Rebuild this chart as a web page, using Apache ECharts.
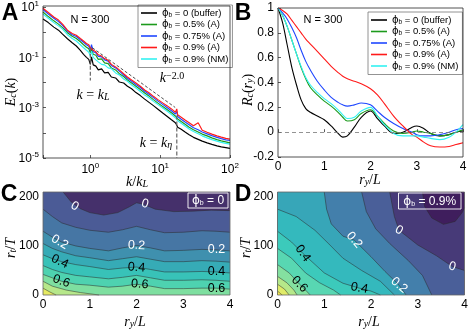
<!DOCTYPE html>
<html>
<head>
<meta charset="utf-8">
<style>html,body{margin:0;padding:0;background:#fff}#chart{width:473px;height:329px}</style>
<script src="https://cdn.jsdelivr.net/npm/echarts@6.0.0/dist/echarts.min.js"></script>
</head>
<body>
<div id="chart"></div>
<script>
// ---- panel A: spectra, log10 E_c(k)
var kA = [0.21, 0.25, 0.3, 0.35, 0.4, 0.47, 0.55, 0.63, 0.72, 0.8,
  0.88, 0.95, 1.0, 1.04, 1.1, 1.2, 1.3, 1.45, 1.6, 1.8,
  2.0, 2.3, 2.6, 3.0, 3.4, 3.9, 4.5, 5.2, 6, 7,
  8, 9.3, 11, 12.5, 14.5, 16.5, 17.3, 17.8, 20, 23,
  26, 30, 35, 40, 47, 55, 65, 75, 87, 100];
var logE_buffer = [0.52, 0.38, 0.2, 0.08, -0.08, -0.26, -0.42, -0.55, -0.72, -0.88,
  -1.0, -1.08, -1.28, -0.98, -1.3, -1.35, -1.5, -1.46, -1.62, -1.6,
  -1.78, -1.82, -1.98, -2.02, -2.15, -2.25, -2.4, -2.52, -2.66, -2.8,
  -2.92, -3.06, -3.22, -3.34, -3.48, -3.6, -3.7, -3.78, -3.86, -3.98,
  -4.08, -4.18, -4.26, -4.33, -4.4, -4.46, -4.52, -4.56, -4.59, -4.62];
var logE_05A = [0.8, 0.62, 0.45, 0.32, 0.18, -0.02, -0.16, -0.25, -0.38, -0.5,
  -0.6, -0.66, -0.82, -0.65, -0.88, -0.92, -1.08, -1.06, -1.22, -1.25,
  -1.42, -1.5, -1.65, -1.76, -1.9, -2.02, -2.15, -2.28, -2.42, -2.55,
  -2.68, -2.82, -2.96, -3.07, -3.2, -3.33, -3.32, -3.45, -3.55, -3.67,
  -3.78, -3.88, -3.97, -4.05, -4.12, -4.2, -4.27, -4.32, -4.36, -4.4];
var logE_075A = [0.9, 0.72, 0.55, 0.42, 0.27, 0.04, -0.1, -0.17, -0.3, -0.4,
  -0.5, -0.56, -0.7, -0.5, -0.78, -0.82, -0.96, -0.98, -1.1, -1.15,
  -1.32, -1.42, -1.55, -1.7, -1.83, -1.95, -2.08, -2.2, -2.35, -2.48,
  -2.6, -2.74, -2.88, -2.99, -3.12, -3.25, -3.15, -3.35, -3.46, -3.58,
  -3.68, -3.8, -3.88, -3.97, -4.04, -4.11, -4.18, -4.23, -4.28, -4.3];
var logE_09A = [0.95, 0.78, 0.6, 0.48, 0.32, 0.08, -0.05, -0.12, -0.25, -0.35,
  -0.45, -0.5, -0.62, -0.55, -0.72, -0.78, -0.9, -0.95, -1.05, -1.12,
  -1.28, -1.38, -1.5, -1.65, -1.78, -1.9, -2.02, -2.15, -2.3, -2.42,
  -2.55, -2.68, -2.82, -2.92, -3.05, -3.18, -3.05, -3.28, -3.38, -3.5,
  -3.6, -3.72, -3.6, -3.9, -3.98, -4.05, -4.12, -4.17, -4.22, -4.25];
var logE_09NM = [0.72, 0.55, 0.38, 0.25, 0.12, -0.1, -0.25, -0.35, -0.5, -0.62,
  -0.72, -0.8, -0.95, -0.75, -1.0, -1.1, -1.18, -1.28, -1.3, -1.42,
  -1.45, -1.62, -1.7, -1.86, -1.95, -2.1, -2.22, -2.36, -2.5, -2.62,
  -2.75, -2.88, -3.02, -3.13, -3.27, -3.4, -3.42, -3.52, -3.62, -3.74,
  -3.85, -3.95, -4.04, -4.12, -4.2, -4.27, -4.33, -4.38, -4.42, -4.45];
var slopeLine = [[1.07, 0.24], [16.4, 1.02e-3]];
var kLLine = [[1.0, 0.24], [1.0, 0.012]];
var kEtaLine = [[17.3, 4.9e-4], [17.3, 1e-5]];

// ---- panel B: R_c(r_y)
var rB = [0, 0.1, 0.2, 0.3, 0.4, 0.5, 0.6, 0.7, 0.85, 1.0, 1.15, 1.3, 1.4, 1.5, 1.65,
  1.8, 2.0, 2.15, 2.3, 2.5, 2.7, 2.9, 3.0, 3.15, 3.3, 3.5, 3.7, 3.85, 4.0];
var Rc_buffer = [1, 0.88, 0.7, 0.52, 0.38, 0.26, 0.19, 0.16, 0.13, 0.1, 0.05, -0.01, -0.04, -0.03, 0.04,
  0.12, 0.17, 0.11, 0.05, -0.01, 0.0, 0.04, 0.05, 0.03, -0.01, -0.03, -0.02, 0.0, 0.01];
var Rc_05A = [1, 0.94, 0.85, 0.74, 0.63, 0.52, 0.43, 0.36, 0.3, 0.25, 0.21, 0.16, 0.12, 0.09, 0.1,
  0.15, 0.18, 0.13, 0.07, 0.01, -0.01, 0.0, 0.01, 0.0, -0.01, -0.03, -0.02, 0.0, 0.02];
var Rc_075A = [1, 0.96, 0.91, 0.84, 0.76, 0.66, 0.57, 0.5, 0.41, 0.34, 0.28, 0.24, 0.22, 0.21, 0.22,
  0.235, 0.22, 0.17, 0.12, 0.07, 0.03, 0.0, -0.02, -0.03, -0.03, -0.02, 0.0, 0.02, 0.03];
var Rc_09A = [1, 0.98, 0.95, 0.9, 0.85, 0.8, 0.75, 0.71, 0.65, 0.59, 0.53, 0.48, 0.45, 0.43, 0.41,
  0.39, 0.35, 0.3, 0.23, 0.13, 0.05, -0.02, -0.04, -0.08, -0.11, -0.12, -0.115, -0.1, -0.085];
var Rc_09NM = [1, 0.94, 0.85, 0.74, 0.63, 0.53, 0.44, 0.38, 0.32, 0.27, 0.23, 0.18, 0.14, 0.11, 0.12,
  0.17, 0.2, 0.13, 0.06, -0.01, -0.03, -0.03, -0.03, -0.04, -0.05, -0.06, -0.04, 0.0, 0.06];

var legendLabels = ['0 (buffer)', '0.5% (A)', '0.75% (A)', '0.9% (A)', '0.9% (NM)'];

// ---- panel C: contour lines [r_y/L, r_t/T], phi_b = 0
var cLine_0 = [[0.43, 210], [0.6, 190], [0.8, 176], [1.0, 168], [1.3, 163], [1.6, 168], [1.85, 180], [2.0, 188], [2.15, 185], [2.4, 175], [2.8, 170], [3.2, 171], [3.6, 173], [4.0, 172]];
var cLine_01 = [[0, 175], [0.2, 160], [0.4, 147], [0.7, 138], [1.0, 132], [1.4, 128], [1.7, 133], [2.0, 140], [2.3, 133], [2.6, 127], [3.0, 128], [3.4, 131], [3.7, 130], [4.0, 128]];
var cLine_02 = [[0, 130], [0.2, 118], [0.4, 108], [0.7, 100], [1.0, 95], [1.4, 90], [1.7, 96], [2.0, 101], [2.3, 96], [2.6, 90], [3.0, 91], [3.4, 93], [3.7, 92], [4.0, 90]];
var cLine_03 = [[0, 105], [0.2, 95], [0.4, 88], [0.7, 80], [1.0, 76], [1.4, 70], [1.7, 74], [2.0, 78], [2.3, 73], [2.6, 68], [3.0, 68], [3.4, 70], [3.7, 69], [4.0, 67]];
var cLine_04 = [[0, 82], [0.2, 74], [0.4, 68], [0.7, 62], [1.0, 58], [1.4, 52], [1.7, 55], [2.0, 57], [2.3, 52], [2.6, 47], [3.0, 47], [3.4, 48], [3.7, 47], [4.0, 45]];
var cLine_05 = [[0, 60], [0.2, 52], [0.4, 46], [0.7, 40], [1.0, 37], [1.4, 33], [1.7, 36], [2.0, 40], [2.3, 35], [2.6, 30], [3.0, 30], [3.4, 31], [3.7, 30], [4.0, 28]];
var cLine_06 = [[0, 42], [0.2, 35], [0.4, 28], [0.7, 22], [1.0, 20], [1.4, 16], [1.7, 18], [2.0, 22], [2.3, 18], [2.6, 13], [3.0, 13], [3.4, 14], [3.7, 14], [4.0, 12]];
var cLine_07 = [[0, 28], [0.2, 18], [0.5, 10], [0.8, 5], [1.2, 0]];
var cLine_08 = [[0, 14], [0.15, 6], [0.28, 0]];
var cLabels = [[0.68, 181, '0', -30, '#fff'], [2.18, 186, '0', -15, '#fff'],
  [0.36, 108, '0.2', -30, '#fff'], [2.0, 101, '0.2', -3, '#fff'], [3.71, 92, '0.2', 0, '#fff'],
  [0.36, 68, '0.4', -25, '#000'], [2.0, 56, '0.4', -5, '#000'], [3.71, 47, '0.4', 0, '#000'],
  [0.39, 28, '0.6', -20, '#000'], [2.07, 22, '0.6', -5, '#000'], [3.71, 14, '0.6', 0, '#000']];

// ---- panel D: contour lines, phi_b = 0.9%
var dLine_m01 = [[3.1, 210], [3.15, 180], [3.3, 157], [3.55, 144], [3.8, 150], [3.95, 168], [4.0, 178]];
var dLine_0 = [[2.4, 210], [2.5, 160], [2.6, 132], [3.0, 102], [3.4, 80], [3.74, 58], [4.0, 50]];
var dLine_01 = [[1.8, 210], [1.9, 170], [2.1, 135], [2.4, 105], [2.8, 70], [3.1, 40], [3.3, 0]];
var dLine_02 = [[1.0, 210], [1.05, 175], [1.15, 145], [1.4, 120], [1.64, 112], [2.0, 78], [2.3, 48], [2.6, 20], [2.75, 0]];
var dLine_03 = [[0, 175], [0.4, 160], [0.8, 132], [1.1, 104], [1.4, 75], [1.8, 50], [2.2, 28], [2.5, 0]];
var dLine_04 = [[0, 130], [0.3, 108], [0.54, 85], [1.0, 45], [1.4, 24], [1.75, 14], [2.0, 8], [2.2, 0]];
var dLine_05 = [[0, 95], [0.3, 75], [0.6, 45], [0.9, 25], [1.2, 10], [1.35, 0]];
var dLine_06 = [[0, 62], [0.25, 45], [0.47, 22], [0.6, 10], [0.7, 0]];
var dLine_07 = [[0, 38], [0.2, 25], [0.35, 10], [0.42, 0]];
var dLine_08 = [[0, 22], [0.15, 12], [0.25, 0]];
var dLine_09 = [[0, 8], [0.1, 0]];
var dLabels = [[2.6, 132, '0', -30, '#fff'], [3.74, 58, '0', -15, '#fff'],
  [1.64, 112, '0.2', -50, '#fff'], [2.6, 20, '0.2', -40, '#fff'],
  [0.54, 85, '0.4', -55, '#000'], [1.75, 14, '0.4', -10, '#000'],
  [0.47, 22, '0.6', -45, '#000']];

// ---- styles
var FONT = 'Liberation Sans, Arial, Helvetica, sans-serif';
var MATH = 'Liberation Serif, DejaVu Serif, serif';
var lineColors = ['#000000', '#1c9a1c', '#1f47ff', '#ff1a1a', '#33f2f2'];
// band colours (lower level of each band); MATLAB scales each panel's map to its own range
var bandColorsC = {
  '-0.1': '#45306b', '0': '#4b5b96', '0.1': '#4676a4', '0.2': '#3f90ae', '0.3': '#36abb6',
  '0.4': '#38c2b8', '0.5': '#4ed2b0', '0.6': '#7edfa0', '0.7': '#b6e78a', '0.8': '#e6ea62'
};
var bandColorsD = {
  '-0.2': '#3f1e5d', '-0.1': '#473a78', '0': '#4a5f99', '0.1': '#437fab', '0.2': '#37a6b8',
  '0.3': '#34b9bd', '0.4': '#3ccabb', '0.5': '#58d7b2', '0.6': '#84e0a0', '0.7': '#b6e889',
  '0.8': '#e0eb68', '0.9': '#f7e84c'
};
var gA = {left: 43, top: 6, width: 187, height: 152};
var gB = {left: 278, top: 8, width: 185, height: 149};
var gC = {left: 43, top: 192, width: 187, height: 103};
var gD = {left: 277.5, top: 192, width: 187, height: 103};
var RY = 4, RT = 210;

var chart = echarts.init(document.getElementById('chart'));

function powLabel(onlyOdd) {
  return function (v) {
    var l = Math.log10(v), e = Math.round(l);
    if (Math.abs(l - e) > 1e-6) return '';
    if (onlyOdd && e % 2 === 0) return '';
    return '{b|10}{s|' + e + '}';
  };
}
var powRich = {
  b: {fontSize: 12, fontFamily: FONT, color: '#000', lineHeight: 14, verticalAlign: 'bottom'},
  s: {fontSize: 8, fontFamily: FONT, color: '#000', lineHeight: 8, verticalAlign: 'top'}
};
var tickStyle = {show: true, inside: true, length: 3, lineStyle: {color: '#333', width: 0.8}};
var plainLabel = {fontSize: 12, fontFamily: FONT, color: '#000', margin: 4};

// close a contour line along the plot border into a polygon
function closePoly(line, inside) {
  var X = RY, Y = RT, e = 1e-6;
  function t(p) {
    if (p[1] <= e) return p[0];
    if (p[0] >= X - e) return X + p[1];
    if (p[1] >= Y - e) return X + Y + (X - p[0]);
    return 2 * X + Y + (Y - p[1]);
  }
  var corners = [[0, 0, 0], [X, 0, X], [X, Y, X + Y], [0, Y, 2 * X + Y]];
  var tS = t(line[0]), tE = t(line[line.length - 1]);
  var pts = line.slice(), i;
  var ccw = inside ? (tS < tE) : (tS > tE);
  if (ccw) {
    var seq = corners.slice().sort(function (a, b) { return a[2] - b[2]; });
    for (i = 0; i < seq.length; i++) if (tS < tE ? seq[i][2] > tE : (seq[i][2] > tE && seq[i][2] < tS)) pts.push(seq[i]);
    if (tS < tE) for (i = 0; i < seq.length; i++) if (seq[i][2] < tS) pts.push(seq[i]);
  } else {
    var rseq = corners.slice().sort(function (a, b) { return b[2] - a[2]; });
    if (tS > tE) {
      for (i = 0; i < rseq.length; i++) if (rseq[i][2] < tE) pts.push(rseq[i]);
      for (i = 0; i < rseq.length; i++) if (rseq[i][2] > tS) pts.push(rseq[i]);
    } else {
      for (i = 0; i < rseq.length; i++) if (rseq[i][2] < tE && rseq[i][2] > tS) pts.push(rseq[i]);
    }
  }
  return pts.map(function (p) { return [p[0], p[1]]; });
}

function contourSeries(idx, line, col, inside) {
  var poly = closePoly(line, inside);
  return {
    type: 'custom', xAxisIndex: idx, yAxisIndex: idx, silent: true, z: 2,
    data: [[0, 0]],
    renderItem: function (params, api) {
      return {
        type: 'group', children: [
          {type: 'polygon', shape: {points: poly.map(function (p) { return api.coord(p); })}, style: {fill: col}},
          {type: 'polyline', shape: {points: line.map(function (p) { return api.coord(p); })}, style: {fill: null, stroke: '#2a2a2a', lineWidth: 0.6, opacity: 0.85}}
        ]
      };
    }
  };
}

function labelSeries(idx, labels) {
  return {
    type: 'custom', xAxisIndex: idx, yAxisIndex: idx, silent: true, z: 5,
    data: labels.map(function (l) { return [l[0], l[1]]; }),
    renderItem: function (params, api) {
      var l = labels[params.dataIndex];
      var p = api.coord([l[0], l[1]]);
      return {type: 'text', x: p[0], y: p[1], rotation: l[3] * Math.PI / 180,
        style: {text: l[2], fill: l[4], font: '12.5px ' + FONT, align: 'center', verticalAlign: 'middle'}};
    }
  };
}

var seriesList = [];
var logA = [logE_buffer, logE_05A, logE_075A, logE_09A, logE_09NM];
logA.forEach(function (arr, i) {
  seriesList.push({
    type: 'line', name: 'A' + i, xAxisIndex: 0, yAxisIndex: 0, symbol: 'none', silent: true,
    lineStyle: {width: 1.15, color: lineColors[i]}, itemStyle: {color: lineColors[i]},
    data: kA.map(function (k, j) { return [k, Math.pow(10, arr[j])]; })
  });
});
[[slopeLine, '#222', [3, 2]], [kLLine, '#666', [4, 2]], [kEtaLine, '#666', [4, 2]]].forEach(function (d) {
  seriesList.push({type: 'line', xAxisIndex: 0, yAxisIndex: 0, symbol: 'none', silent: true, z: 4,
    lineStyle: {width: d[1] === '#222' ? 0.8 : 1.2, color: d[1], type: d[2]}, data: d[0]});
});
var RcB = [Rc_buffer, Rc_05A, Rc_075A, Rc_09A, Rc_09NM];
RcB.forEach(function (arr, i) {
  var s = {
    type: 'line', name: 'B' + i, xAxisIndex: 1, yAxisIndex: 1, symbol: 'none', silent: true, smooth: 0.35,
    lineStyle: {width: 1.1, color: lineColors[i]}, itemStyle: {color: lineColors[i]},
    data: rB.map(function (r, j) { return [r, arr[j]]; })
  };
  if (i === 0) s.markLine = {silent: true, symbol: 'none', label: {show: false},
    lineStyle: {type: [4, 3], color: '#777', width: 0.8}, data: [{yAxis: 0}]};
  seriesList.push(s);
});

var cSet = [[cLine_0, 0], [cLine_01, 0.1], [cLine_02, 0.2], [cLine_03, 0.3], [cLine_04, 0.4],
  [cLine_05, 0.5], [cLine_06, 0.6], [cLine_07, 0.7], [cLine_08, 0.8]];
cSet.forEach(function (c) { seriesList.push(contourSeries(2, c[0], bandColorsC[String(c[1])], true)); });
seriesList.push(labelSeries(2, cLabels));
seriesList.push(contourSeries(3, dLine_m01, bandColorsD['-0.2'], false));
var dSet = [[dLine_0, 0], [dLine_01, 0.1], [dLine_02, 0.2], [dLine_03, 0.3], [dLine_04, 0.4],
  [dLine_05, 0.5], [dLine_06, 0.6], [dLine_07, 0.7], [dLine_08, 0.8], [dLine_09, 0.9]];
dSet.forEach(function (c) { seriesList.push(contourSeries(3, c[0], bandColorsD[String(c[1])], true)); });
seriesList.push(labelSeries(3, dLabels));

function legendFmt(name) {
  return '{p|ϕ}{s|b}{t| = ' + legendLabels[+name.slice(1)] + '}';
}
var legendRich = {
  p: {fontSize: 10, fontFamily: 'DejaVu Sans, ' + FONT, color: '#000', lineHeight: 11},
  s: {fontSize: 6.5, fontFamily: FONT, color: '#000', verticalAlign: 'bottom', lineHeight: 6},
  t: {fontSize: 9.5, fontFamily: FONT, color: '#000', lineHeight: 11}
};
function legendAt(left, top, prefix) {
  return {
    left: left, top: top, orient: 'vertical', selectedMode: false, icon: 'rect',
    data: [0, 1, 2, 3, 4].map(function (i) { return prefix + i; }),
    formatter: legendFmt, itemWidth: 16, itemHeight: 1.6, itemGap: 1,
    padding: [3, 4, 3, 3], borderColor: '#777', borderWidth: 0.8, backgroundColor: '#fff',
    textStyle: {rich: legendRich, fontSize: 9.5, color: '#000'}
  };
}

var mathRich = {
  i: {fontFamily: MATH, fontStyle: 'italic', fontSize: 14, fill: '#000'},
  n: {fontFamily: MATH, fontSize: 14, fill: '#000'},
  sub: {fontFamily: MATH, fontStyle: 'italic', fontSize: 10, fill: '#000', verticalAlign: 'bottom', lineHeight: 9},
  sup: {fontFamily: MATH, fontSize: 10, fill: '#000', verticalAlign: 'top', lineHeight: 9}
};
function mathText(x, y, text, rot) {
  return {type: 'text', x: x, y: y, rotation: rot || 0, z: 120,
    style: {text: text, rich: mathRich, align: 'center', verticalAlign: 'middle', textAlign: 'center', textVerticalAlign: 'middle'}};
}
function plainText(x, y, text, size, weight, color) {
  return {type: 'text', x: x, y: y, z: 120,
    style: {text: text, fill: color || '#000', font: (weight || 'normal') + ' ' + size + 'px ' + FONT,
      align: 'center', verticalAlign: 'middle', textAlign: 'center', textVerticalAlign: 'middle'}};
}
function frame(g, color) {
  return {type: 'rect', z: 110, silent: true, shape: {x: g.left, y: g.top, width: g.width, height: g.height},
    style: {fill: null, stroke: color, lineWidth: 0.8}};
}
function phiBox(x, y, w, h, label) {
  return {type: 'group', z: 130, children: [
    {type: 'rect', z: 130, shape: {x: x, y: y, width: w, height: h}, style: {fill: null, stroke: '#fff', lineWidth: 0.9}},
    {type: 'text', z: 131, x: x + w / 2, y: y + h / 2 + 0.5, style: {text: '{p|ϕ}{s|b}{t| = ' + label + '}',
      align: 'center', verticalAlign: 'middle', textAlign: 'center', textVerticalAlign: 'middle',
      rich: {p: {fontSize: 12, fontFamily: 'DejaVu Sans', fill: '#fff'},
        s: {fontSize: 7, fontFamily: FONT, fill: '#fff', verticalAlign: 'bottom', lineHeight: 7},
        t: {fontSize: 12, fontFamily: FONT, fill: '#fff'}}}}
  ]};
}

var option = {
  animation: false,
  backgroundColor: '#fff',
  grid: [
    Object.assign({show: true, backgroundColor: '#fff', borderWidth: 0}, gA),
    Object.assign({show: true, backgroundColor: '#fff', borderWidth: 0}, gB),
    Object.assign({show: true, backgroundColor: bandColorsC['-0.1'], borderWidth: 0}, gC),
    Object.assign({show: true, backgroundColor: bandColorsD['-0.1'], borderWidth: 0}, gD)
  ],
  xAxis: [
    {gridIndex: 0, type: 'log', min: 0.21, max: 100, axisLine: {show: false}, axisTick: tickStyle, splitLine: {show: false},
      axisLabel: {formatter: powLabel(false), rich: powRich, margin: 4, showMinLabel: true, showMaxLabel: true}},
    {gridIndex: 1, type: 'value', min: 0, max: 4, interval: 1, axisLine: {show: false}, axisTick: tickStyle, splitLine: {show: false},
      axisLabel: plainLabel},
    {gridIndex: 2, type: 'value', min: 0, max: RY, interval: 1, axisLine: {show: false}, axisTick: {show: false}, splitLine: {show: false},
      axisLabel: plainLabel},
    {gridIndex: 3, type: 'value', min: 0, max: RY, interval: 1, axisLine: {show: false}, axisTick: {show: false}, splitLine: {show: false},
      axisLabel: plainLabel}
  ],
  yAxis: [
    {gridIndex: 0, type: 'log', min: 1e-5, max: 10, axisLine: {show: false}, axisTick: tickStyle, splitLine: {show: false},
      axisLabel: {formatter: powLabel(true), rich: powRich, margin: 4, showMinLabel: true, showMaxLabel: true}},
    {gridIndex: 1, type: 'value', min: -0.2, max: 1, interval: 0.2, axisLine: {show: false}, axisTick: tickStyle, splitLine: {show: false},
      axisLabel: plainLabel},
    {gridIndex: 2, type: 'value', min: 0, max: RT, interval: 100, axisLine: {show: false}, axisTick: {show: false}, splitLine: {show: false},
      axisLabel: Object.assign({formatter: function (v) { return v % 100 === 0 ? String(v) : ''; }}, plainLabel)},
    {gridIndex: 3, type: 'value', min: 0, max: RT, interval: 100, axisLine: {show: false}, axisTick: {show: false}, splitLine: {show: false},
      axisLabel: Object.assign({formatter: function (v) { return v % 100 === 0 ? String(v) : ''; }}, plainLabel)}
  ],
  legend: [legendAt(138, 5, 'A'), legendAt(368, 12, 'B')],
  graphic: [
    frame(gA, '#262626'), frame(gB, '#262626'), frame(gC, '#666'), frame(gD, '#666'),
    plainText(10, 14, 'A', 23, 'bold'), plainText(243, 14, 'B', 23, 'bold'),
    plainText(9, 195, 'C', 23, 'bold'), plainText(243, 195, 'D', 23, 'bold'),
    plainText(90, 20, 'N = 300', 11), plainText(323, 20, 'N = 300', 11),
    mathText(11, 92, '{i|E}{sub|c}{n|(}{i|k}{n|)}', Math.PI / 2),
    mathText(137, 182, '{i|k}{n|/}{i|k}{sub|L}'),
    mathText(248, 90, '{i|R}{sub|c}{n|(}{i|r}{sub|y}{n|)}', Math.PI / 2),
    mathText(370, 180, '{i|r}{sub|y}{n|/}{i|L}'),
    mathText(11, 248, '{i|r}{sub|t}{n|/}{i|T}', Math.PI / 2),
    mathText(135, 322, '{i|r}{sub|y}{n|/}{i|L}'),
    mathText(246, 248, '{i|r}{sub|t}{n|/}{i|T}', Math.PI / 2),
    mathText(369, 322, '{i|r}{sub|y}{n|/}{i|L}'),
    mathText(93, 95, '{i|k}{n| = }{i|k}{sub|L}'),
    mathText(172, 78, '{i|k}{sup|−2.0}'),
    mathText(156, 143, '{i|k}{n| = }{i|k}{sub|η}'),
    phiBox(188, 193, 40, 15, '0'), phiBox(398.5, 193, 62.5, 16, '0.9%')
  ],
  series: seriesList
};
chart.setOption(option);
</script>
</body>
</html>
